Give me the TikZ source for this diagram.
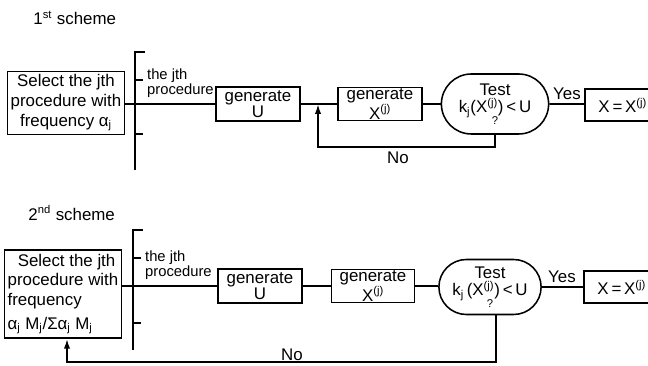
\documentclass[tikz,border=0pt]{standalone}
\usepackage{fontspec}
\setmainfont{Liberation Sans}
\usetikzlibrary{positioning, arrows.meta, shapes.misc}

\begin{document}
\begin{tikzpicture}[
  x=0.025cm, y=-0.025cm,
  font=\fontsize{12}{11.5}\selectfont,
  line width=1.1pt,
  % Estilos de cajas
  selbox/.style={draw, rectangle, minimum width=2.925cm, inner sep=1pt, font=\fontsize{12}{14}\selectfont},
  genbox/.style={draw, rectangle, minimum width=2.1cm, minimum height=0.85cm, inner sep=1pt, align=center},
  testbox/.style={draw, rounded rectangle, minimum width=2.75cm, minimum height=1.5cm, inner sep=1pt, align=center},
  resbox/.style={draw, rectangle, anchor=west, minimum width=1.9cm, minimum height=0.8cm, inner sep=1pt},
  lbl/.style={inner sep=1pt, font=\fontsize{10.5}{10.5}\selectfont},
  % Estilos de lineas
  line/.style={draw, line width=1.3pt},
  back/.style={draw, line width=1.3pt, -{Latex[length=7pt,width=4.5pt]}}
]
\useasboundingbox (0,0) rectangle (648,366);

  % ==========================================
  % 1ST SCHEME
  % ==========================================
  \node[anchor=west] (title1) at (28,18) {1\textsuperscript{st} scheme};

  \node[selbox, minimum height=1.575cm, align=center] (sel1) at (66,103) {Select the jth\\procedure with\\frequency α\textsubscript{j}};

  % --- selector bar ---
  \coordinate (bar1) at (135,104);
  \draw[line] (145,52) -- (135,52) -- (135,170);
  \draw[line] (135,80) -- (143,80);
  \draw[line] (135,134) -- (143,134);
  \node[lbl, anchor=south west, align=left] (proc1) at (145,100) {the jth\\procedure};

  \node[genbox] (genu1) at (258,104) {generate\\U};
  \node[genbox, minimum height=0.8cm] (genx1) at (380,104) {generate\\X\textsuperscript{(j)}};
  \node[testbox] (test1) at (495,104) {Test\\[1pt]k\textsubscript{j}(X\textsuperscript{(j)})\,<\,U\\[-3pt]{\footnotesize ?}};
  \node[resbox] (res1) at (584,105) {X\,=\,X\textsuperscript{(j)}};
  \node[inner sep=1pt] (yes1) at (567,94) {Yes};

  \draw[line] (sel1.east |- bar1) -- (bar1) -- (genu1.west);
  \draw[line] (genu1) -- (genx1);
  \draw[line] (genx1) -- (test1);
  \draw[line] (test1) -- (res1.west |- test1);

  % --- feedback No ---
  \coordinate (j1) at (318,104);
  \draw[back] (test1.south) -- ++(0,12) -| (j1);
  \node[inner sep=1pt] (no1) at (398,158) {No};

  % ==========================================
  % 2ND SCHEME
  % ==========================================
  \node[anchor=west] (title2) at (23,213) {2\textsuperscript{nd} scheme};

  \node[selbox, minimum height=2.2cm, align=left] (sel2) at (63,294) {\hspace*{0.6em}Select the jth\\procedure with\\frequency\\[3pt]α\textsubscript{j} M\textsubscript{j}/Σα\textsubscript{j} M\textsubscript{j}};

  % --- selector bar ---
  \coordinate (bar2) at (133,286);
  \draw[line] (143,230) -- (133,230) -- (133,350);
  \draw[line] (133,258) -- (141,258);
  \draw[line] (133,323) -- (141,323);
  \node[lbl, anchor=south west, align=left] (proc2) at (143,282) {the jth\\procedure};

  \node[genbox] (genu2) at (260,286) {generate\\U};
  \node[genbox, minimum width=2.075cm, minimum height=0.8cm] (genx2) at (373,286) {generate\\X\textsuperscript{(j)}};
  \node[testbox, minimum width=2.625cm, minimum height=1.375cm] (test2) at (490,287) {Test\\[1pt]k\textsubscript{j}\,(X\textsuperscript{(j)})\,<\,U\\[-3pt]{\footnotesize ?}};
  \node[resbox] (res2) at (583,287) {X\,=\,X\textsuperscript{(j)}};
  \node[inner sep=1pt] (yes2) at (562,277) {Yes};

  \draw[line] (sel2.east |- bar2) -- (bar2) -- (genu2.west);
  \draw[line] (genu2) -- (genx2);
  \draw[line] (genx2) -- (test2.west |- genx2);
  \draw[line] (test2) -- (res2);

  % --- feedback No ---
  \draw[back] ([xshift=0.15cm]test2.south) -- ++(0,47) -| ([xshift=0.1cm]sel2.south);
  \node[inner sep=1pt] (no2) at (292,355) {No};

\end{tikzpicture}
\end{document}
